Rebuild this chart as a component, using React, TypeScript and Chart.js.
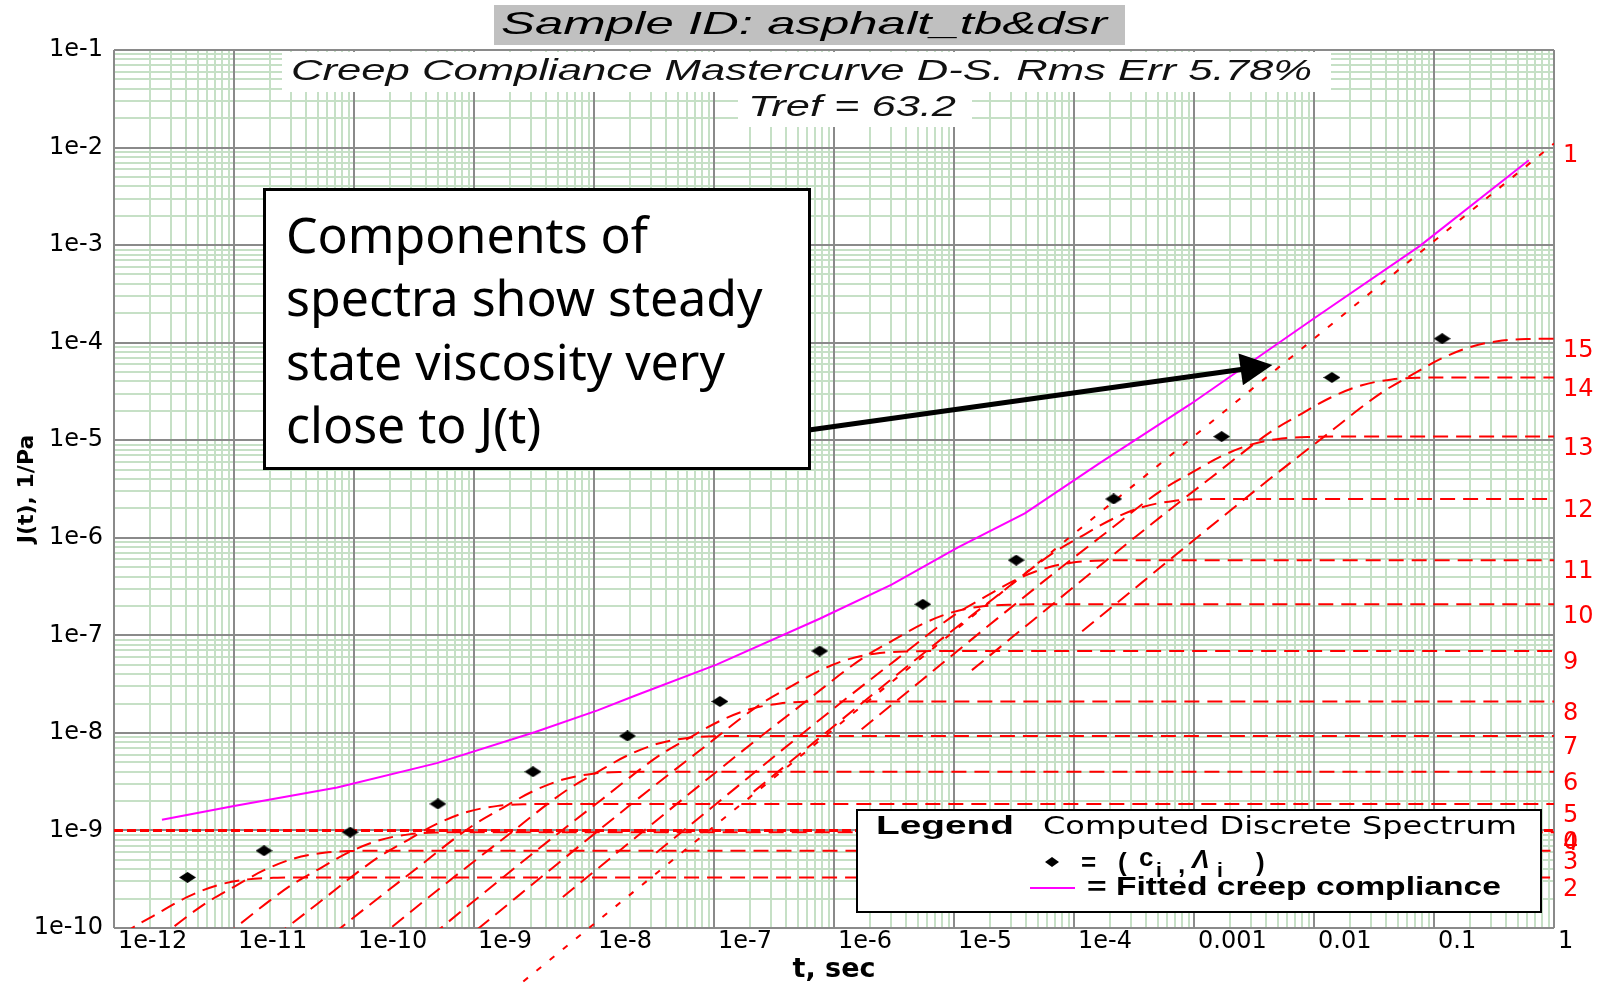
import { useEffect, useRef } from 'react';
import { Chart, registerables } from 'chart.js';

Chart.register(...registerables);

// ---------- axis ticks ----------
const X_TICK_VALUES = [1e-12, 1e-11, 1e-10, 1e-9, 1e-8, 1e-7, 1e-6, 1e-5, 1e-4, 1e-3, 1e-2, 1e-1, 1];
const X_TICK_LABELS = ['1e-12', '1e-11', '1e-10', '1e-9', '1e-8', '1e-7', '1e-6', '1e-5', '1e-4', '0.001', '0.01', '0.1', '1'];
const Y_TICK_VALUES = [1e-10, 1e-9, 1e-8, 1e-7, 1e-6, 1e-5, 1e-4, 1e-3, 1e-2, 1e-1];
const Y_TICK_LABELS = ['1e-10', '1e-9', '1e-8', '1e-7', '1e-6', '1e-5', '1e-4', '1e-3', '1e-2', '1e-1'];

// ---------- fitted creep compliance J(t) ----------
const PINK_T = [2.51e-12, 1.0e-11, 7.24e-11, 4.9e-10, 3.24e-9, 1.07e-8, 2.19e-8, 1.05e-7, 7.59e-7, 3.02e-6, 1.07e-5, 3.89e-5, 1.66e-4, 9.33e-4, 9.77e-3, 7.59e-2, 0.617];
const PINK_J = [1.29e-9, 1.78e-9, 2.75e-9, 4.9e-9, 1.02e-8, 1.7e-8, 2.4e-8, 5.01e-8, 1.48e-7, 3.31e-7, 7.94e-7, 1.78e-6, 5.89e-6, 2.34e-5, 1.74e-4, 9.77e-4, 7.41e-3];

// ---------- discrete spectrum (c_i, lambda_i) ----------
const COMP_IDS = ['2', '3', '4', '5', '6', '7', '8', '9', '10', '11', '12', '13', '14', '15'];
const COMP_LAMBDA = [4.1e-12, 1.78e-11, 9.3e-11, 5.0e-10, 3.1e-9, 1.9e-8, 1.12e-7, 7.6e-7, 5.5e-6, 3.3e-5, 2.14e-4, 1.7e-3, 1.41e-2, 0.117];
const COMP_C = [3.3e-10, 6.2e-10, 9.6e-10, 1.87e-9, 4.0e-9, 9.3e-9, 2.1e-8, 6.9e-8, 2.08e-7, 5.9e-7, 2.5e-6, 1.09e-5, 4.4e-5, 1.1e-4];

// component 0 (glassy) and component 1 (viscous flow)
const GLASSY_ID = '0';
const GLASSY_T = [1e-12, 1];
const GLASSY_J = [1e-9, 1e-9];
const VISCOUS_ID = '1';
const VISCOUS_T = [2e-9, 1];
const VISCOUS_J = [2.2e-11, 1.1e-2];

// common shape of one component curve:
// offsets (decades) from its (lambda_i, c_i) point
const SHAPE_DT = [-3, -1.5, -1, -0.5, -0.25, 0, 0.25, 0.5, 0.75, 1.0];
const SHAPE_DJ = [-3.0, -1.5, -1.02, -0.55, -0.37, -0.2, -0.08, -0.02, -0.003, 0];

// annotation arrow tip (data coordinates)
const ARROW_TIP_T = 4.5e-3;
const ARROW_TIP_J = 5.9e-5;

const TITLE = 'Sample ID: asphalt_tb&dsr';
const SUBTITLE_1 = 'Creep Compliance Mastercurve D-S. Rms Err 5.78%';
const SUBTITLE_2 = 'Tref = 63.2';
const NOTE_LINES = ['Components of', 'spectra show steady', 'state viscosity very', 'close to J(t)'];

const MINOR_COLOR = '#c6e0c6';
const MAJOR_COLOR = '#8a8a8a';
const RED = '#ff0000';
const PINK = '#ff00ff';

const isDecade = (v: number, list: number[]) => list.some((d) => Math.abs(v / d - 1) < 1e-6);
const labelFor = (v: number, vals: number[], labels: string[]) => {
  const i = vals.findIndex((d) => Math.abs(v / d - 1) < 1e-6);
  return i >= 0 ? labels[i] : '';
};
const withMinors = (decades: number[]) => {
  const out: number[] = [];
  for (let i = 0; i < decades.length - 1; i++) {
    out.push(decades[i]);
    for (let k = 2; k <= 9; k++) out.push(decades[i] * k);
  }
  out.push(decades[decades.length - 1]);
  return out;
};

function fitText(ctx: CanvasRenderingContext2D, text: string, x: number, y: number, width: number, font: string) {
  ctx.save();
  ctx.font = font;
  ctx.textBaseline = 'middle';
  ctx.textAlign = 'left';
  const w = ctx.measureText(text).width;
  ctx.translate(x, y);
  ctx.scale(width / w, 1);
  ctx.fillText(text, 0, 0);
  ctx.restore();
}

const overlayPlugin = {
  id: 'overlay',
  beforeDatasetsDraw(chart: any) {
    const { ctx, chartArea: a } = chart;
    const xs = chart.scales.x;
    const ys = chart.scales.y;
    ctx.save();
    ctx.strokeStyle = MAJOR_COLOR;
    ctx.lineWidth = 2;
    ctx.beginPath();
    X_TICK_VALUES.forEach((v) => {
      const px = Math.round(xs.getPixelForValue(v));
      ctx.moveTo(px, a.top);
      ctx.lineTo(px, a.bottom);
    });
    Y_TICK_VALUES.forEach((v) => {
      const py = Math.round(ys.getPixelForValue(v));
      ctx.moveTo(a.left, py);
      ctx.lineTo(a.right, py);
    });
    ctx.stroke();
    // subtitle blocks
    ctx.fillStyle = '#ffffff';
    ctx.fillRect(282, 52, 1049, 40);
    ctx.fillRect(738, 92, 234, 35);
    ctx.fillStyle = '#111111';
    fitText(ctx, SUBTITLE_1, 291, 72, 1021, 'italic 30px "Liberation Sans"');
    fitText(ctx, SUBTITLE_2, 748, 108, 208, 'italic 30px "Liberation Sans"');
    ctx.restore();
  },
  afterDraw(chart: any) {
    const { ctx } = chart;
    const xs = chart.scales.x;
    const ys = chart.scales.y;
    ctx.save();
    // title
    ctx.fillStyle = '#c0c0c0';
    ctx.fillRect(494, 5, 631, 40);
    ctx.fillStyle = '#000';
    fitText(ctx, TITLE, 501, 25, 606, 'italic 32px "Liberation Sans"');

    // right-hand component numbers
    const rightIds = [GLASSY_ID, VISCOUS_ID, ...COMP_IDS];
    const rightLevels = [GLASSY_J[1], VISCOUS_J[VISCOUS_J.length - 1], ...COMP_C];
    ctx.fillStyle = RED;
    ctx.font = '24px "DejaVu Sans"';
    ctx.textAlign = 'left';
    ctx.textBaseline = 'middle';
    rightIds.forEach((id, i) => {
      const py = ys.getPixelForValue(rightLevels[i]) + 12;
      ctx.fillText(id, 1563, py);
    });

    // annotation arrow
    const tx = xs.getPixelForValue(ARROW_TIP_T);
    const ty = ys.getPixelForValue(ARROW_TIP_J);
    const sx = 809, sy = 430;
    const ang = Math.atan2(ty - sy, tx - sx);
    const hl = 32, hw = 16;
    const bx = tx - hl * Math.cos(ang), by = ty - hl * Math.sin(ang);
    ctx.strokeStyle = '#000';
    ctx.lineWidth = 5;
    ctx.beginPath();
    ctx.moveTo(sx, sy);
    ctx.lineTo(bx + 2 * Math.cos(ang), by + 2 * Math.sin(ang));
    ctx.stroke();
    ctx.fillStyle = '#000';
    ctx.beginPath();
    ctx.moveTo(tx, ty);
    ctx.lineTo(bx + hw * Math.sin(ang), by - hw * Math.cos(ang));
    ctx.lineTo(bx - hw * Math.sin(ang), by + hw * Math.cos(ang));
    ctx.closePath();
    ctx.fill();

    // annotation box
    ctx.fillStyle = '#fff';
    ctx.fillRect(264, 189, 545, 280);
    ctx.strokeStyle = '#000';
    ctx.lineWidth = 3;
    ctx.strokeRect(264.5, 189.5, 545, 279);
    ctx.fillStyle = '#000';
    ctx.font = '50px "Noto Sans"';
    ctx.textBaseline = 'alphabetic';
    ctx.textAlign = 'left';
    NOTE_LINES.forEach((line, i) => ctx.fillText(line, 286, 253 + i * 63.3));

    // legend box
    ctx.fillStyle = '#fff';
    ctx.fillRect(856, 809, 685, 103);
    ctx.strokeStyle = '#000';
    ctx.lineWidth = 2;
    ctx.strokeRect(857, 810, 684, 102);
    ctx.fillStyle = '#000';
    fitText(ctx, 'Legend', 876, 827, 138, 'bold 26px "Liberation Sans"');
    fitText(ctx, 'Computed Discrete Spectrum', 1043, 827, 474, '25px "DejaVu Sans"');
    // diamond sample
    ctx.beginPath();
    ctx.moveTo(1052, 857);
    ctx.lineTo(1059, 862);
    ctx.lineTo(1052, 867);
    ctx.lineTo(1045, 862);
    ctx.closePath();
    ctx.fill();
    ctx.textBaseline = 'middle';
    ctx.font = 'bold 26px "Liberation Sans"';
    ctx.fillText('=', 1081, 864);
    ctx.fillText('(', 1118, 864);
    ctx.fillText('c', 1139, 859);
    ctx.fillText(',', 1178, 866);
    ctx.fillText(')', 1256, 864);
    ctx.font = 'bold italic 26px "Liberation Sans"';
    ctx.fillText('\u039B', 1192, 861);
    ctx.font = 'bold 21px "Liberation Sans"';
    ctx.fillText('i', 1156, 871);
    ctx.fillText('i', 1217, 871);
    // pink sample
    ctx.strokeStyle = PINK;
    ctx.lineWidth = 2;
    ctx.beginPath();
    ctx.moveTo(1030, 888);
    ctx.lineTo(1075, 888);
    ctx.stroke();
    ctx.fillStyle = '#000';
    fitText(ctx, '= Fitted creep compliance', 1087, 888, 414, 'bold 25px "Liberation Sans"');
    ctx.restore();
  },
};

function compCurve(lambda: number, c: number) {
  const pts = SHAPE_DT.map((dt, i) => ({ x: lambda * Math.pow(10, dt), y: c * Math.pow(10, SHAPE_DJ[i]) })).filter((p) => p.x < 1);
  pts.push({ x: 1, y: c });
  return pts;
}

export default function App() {
  const ref = useRef<HTMLCanvasElement>(null);

  useEffect(() => {
    const canvas = ref.current;
    if (!canvas) return;
    const diamond = document.createElement('canvas');
    diamond.width = 17;
    diamond.height = 11;
    const dctx = diamond.getContext('2d')!;
    dctx.fillStyle = '#000';
    dctx.beginPath();
    dctx.moveTo(8.5, 0);
    dctx.lineTo(17, 5.5);
    dctx.lineTo(8.5, 11);
    dctx.lineTo(0, 5.5);
    dctx.closePath();
    dctx.fill();

    const compSets = COMP_IDS.map((id, i) => ({
      label: 'component ' + id,
      data: compCurve(COMP_LAMBDA[i], COMP_C[i]),
      showLine: true,
      borderColor: RED,
      borderWidth: 2,
      borderDash: [15, 8],
      pointRadius: 0,
      cubicInterpolationMode: 'monotone' as const,
      fill: false,
    }));

    const chart = new Chart(canvas, {
      type: 'scatter',
      data: {
        datasets: [
          {
            label: '(c_i, lambda_i)',
            data: COMP_LAMBDA.map((t, i) => ({ x: t, y: COMP_C[i] })),
            pointStyle: diamond,
            pointRadius: 6,
            showLine: false,
          },
          {
            label: 'component ' + VISCOUS_ID,
            data: VISCOUS_T.map((t, i) => ({ x: t, y: VISCOUS_J[i] })),
            showLine: true,
            borderColor: RED,
            borderWidth: 2,
            borderDash: [6, 11],
            pointRadius: 0,
            clip: { left: 0, top: 0, right: 0, bottom: false } as any,
          },
          {
            label: 'component ' + GLASSY_ID,
            data: GLASSY_T.map((t, i) => ({ x: t, y: GLASSY_J[i] })),
            showLine: true,
            borderColor: RED,
            borderWidth: 3,
            borderDash: [9, 4],
            pointRadius: 0,
          },
          ...compSets,
          {
            label: 'Fitted creep compliance',
            data: PINK_T.map((t, i) => ({ x: t, y: PINK_J[i] })),
            showLine: true,
            borderColor: PINK,
            borderWidth: 2,
            pointRadius: 0,
            tension: 0,
          },
        ] as any,
      },
      options: {
        animation: false,
        responsive: false,
        devicePixelRatio: 1,
        events: [],
        layout: { padding: { top: 50, right: 52, left: 0, bottom: 0 } },
        plugins: { legend: { display: false }, tooltip: { enabled: false } },
        scales: {
          x: {
            type: 'logarithmic',
            position: 'bottom',
            min: 1e-12,
            max: 1,
            afterBuildTicks: (s: any) => {
              s.ticks = withMinors(X_TICK_VALUES).map((v) => ({ value: v }));
            },
            afterFit: (s: any) => {
              s.height = 55;
            },
            ticks: {
              autoSkip: false,
              maxRotation: 0,
              minRotation: 0,
              align: 'start',
              labelOffset: 4,
              padding: 2,
              color: '#000',
              font: { family: '"DejaVu Sans"', size: 24, lineHeight: 1 },
              callback: (v: any) => labelFor(Number(v), X_TICK_VALUES, X_TICK_LABELS),
            },
            grid: {
              drawTicks: false,
              lineWidth: 2,
              color: (c: any) => (c.tick && isDecade(c.tick.value, X_TICK_VALUES) ? 'rgba(0,0,0,0)' : MINOR_COLOR),
            },
            border: { display: false },
            title: {
              display: true,
              text: 't, sec',
              color: '#000',
              font: { family: '"DejaVu Sans"', size: 27, weight: 'bold', lineHeight: 1 },
              padding: { top: 0, bottom: 0 },
            },
          },
          y: {
            type: 'logarithmic',
            position: 'left',
            min: 1e-10,
            max: 1e-1,
            afterBuildTicks: (s: any) => {
              s.ticks = withMinors(Y_TICK_VALUES).map((v) => ({ value: v }));
            },
            afterFit: (s: any) => {
              s.width = 114;
            },
            ticks: {
              autoSkip: false,
              padding: 11,
              color: '#000',
              font: { family: '"DejaVu Sans"', size: 24, lineHeight: 1 },
              callback: (v: any) => labelFor(Number(v), Y_TICK_VALUES, Y_TICK_LABELS),
            },
            grid: {
              drawTicks: false,
              lineWidth: 2,
              color: (c: any) => (c.tick && isDecade(c.tick.value, Y_TICK_VALUES) ? 'rgba(0,0,0,0)' : MINOR_COLOR),
            },
            border: { display: false },
            title: {
              display: true,
              text: 'J(t), 1/Pa',
              color: '#000',
              font: { family: '"DejaVu Sans"', size: 22, weight: 'bold', lineHeight: 1 },
              padding: { top: 16, bottom: 0 },
            },
          },
        },
      } as any,
      plugins: [overlayPlugin],
    });
    return () => chart.destroy();
  }, []);

  return (
    <div style={{ position: 'absolute', left: 0, top: 0, width: 1606, height: 983, background: '#fff' }}>
      <canvas ref={ref} width={1606} height={983} style={{ display: 'block', width: 1606, height: 983 }} />
    </div>
  );
}
